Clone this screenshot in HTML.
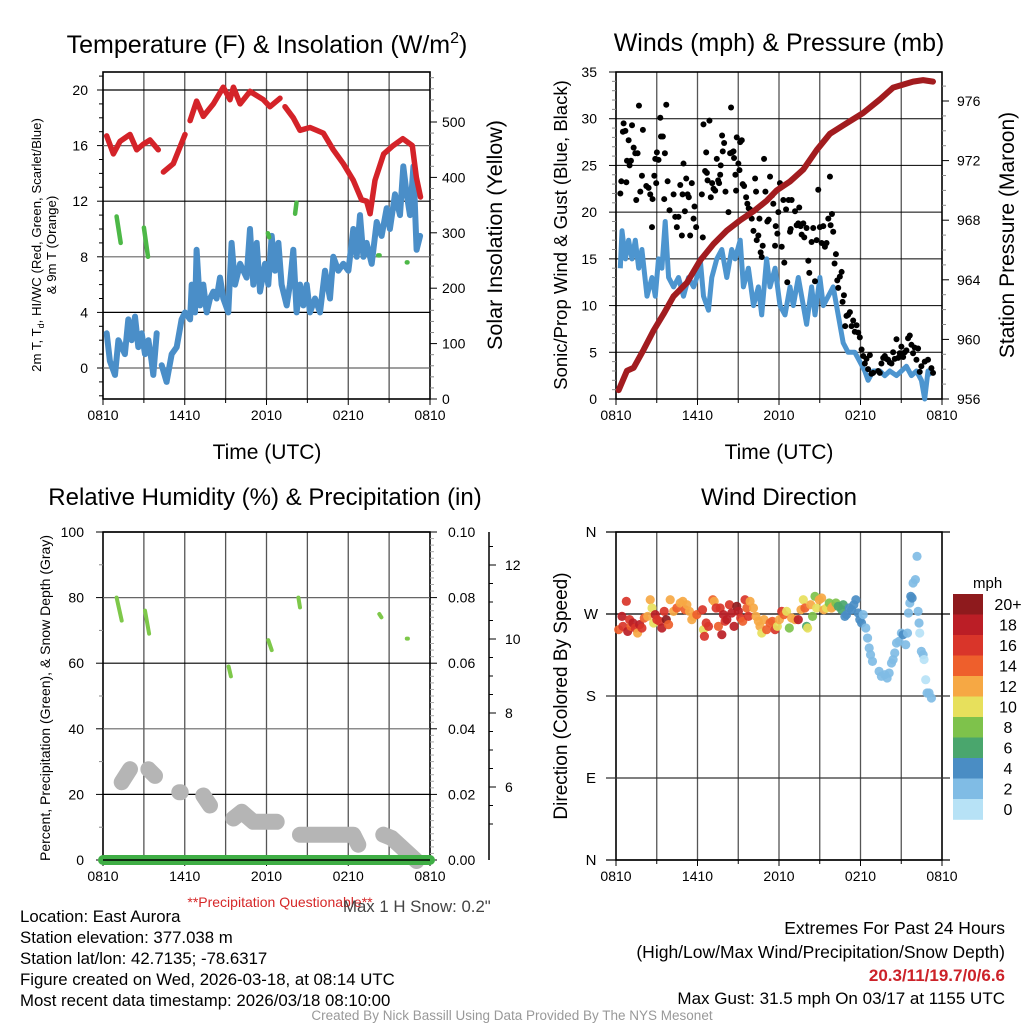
<!DOCTYPE html>
<html><head><meta charset="utf-8"><style>
html,body{margin:0;padding:0;background:#fff;}
svg{display:block;font-family:"Liberation Sans",sans-serif;}
</style></head><body>
<svg id="fig" width="1024" height="1024" viewBox="0 0 1024 1024" xmlns="http://www.w3.org/2000/svg">
<rect x="0" y="0" width="1024" height="1024" fill="#fff"/>
<g id="tl"></g>
<g id="tr"></g>
<g id="bl"></g>
<g id="br"></g>
<g font-size="16.8" fill="#000">
<text x="20" y="922">Location: East Aurora</text>
<text x="20" y="943">Station elevation: 377.038 m</text>
<text x="20" y="964">Station lat/lon: 42.7135; -78.6317</text>
<text x="20" y="985">Figure created on Wed, 2026-03-18, at 08:14 UTC</text>
<text x="20" y="1006">Most recent data timestamp: 2026/03/18 08:10:00</text>
<text x="1005" y="934" text-anchor="end" font-size="17.5">Extremes For Past 24 Hours</text>
<text x="1005" y="958" text-anchor="end" font-size="17.5">(High/Low/Max Wind/Precipitation/Snow Depth)</text>
<text x="1005" y="981" text-anchor="end" font-size="17" fill="#cc2229" font-weight="bold">20.3/11/19.7/0/6.6</text>
<text x="1005" y="1004" text-anchor="end" font-size="17">Max Gust: 31.5 mph On 03/17 at 1155 UTC</text>
<text x="512" y="1020" text-anchor="middle" font-size="13.5" fill="#999">Created By Nick Bassill Using Data Provided By The NYS Mesonet</text>
<text x="280" y="907" text-anchor="middle" font-size="14" fill="#d62728">**Precipitation Questionable**</text>
<text x="343" y="912" font-size="16.8" fill="#444">Max 1 H Snow: 0.2"</text>
</g>
</svg>
<script>
// ---------- DATA ----------
const tempHours=[0.27,0.76,1.25,1.98,2.47,2.96,3.45,4.06,null,4.43,5.16,5.65,6.02,null,6.39,6.87,7.36,8.1,8.83,9.32,9.57,10.06,10.79,11.77,12.26,12.99,null,13.36,13.97,14.46,15.19,16.17,16.9,17.64,18.37,18.98,19.35,19.6,19.96,20.6,21.3,22.0,22.7,23.0,23.3];
const tempVals=[16.7,15.4,16.3,16.8,15.7,16.1,16.4,15.7,null,14.1,14.7,15.9,16.8,null,17.8,19.2,18.1,19.0,20.2,19.3,20.2,19.0,19.9,19.3,18.8,19.4,null,18.8,18.0,17.1,17.3,16.9,15.7,14.7,13.5,12.1,12.0,11.1,13.5,15.4,16.0,16.5,16.0,13.7,12.3];
const dewHours=[0.27,0.51,0.88,1.13,1.61,1.86,2.1,2.35,2.59,2.84,3.08,3.33,3.57,3.69,3.94,null,4.31,4.67,5.04,5.41,5.77,6.02,6.39,6.51,6.75,6.87,7.12,7.36,7.61,7.85,8.1,8.34,8.59,8.83,9.2,9.44,9.69,10.06,10.54,10.79,11.03,11.28,11.52,11.89,12.13,12.38,12.62,12.87,13.11,13.48,13.72,13.97,14.21,14.46,14.7,14.95,15.19,15.56,15.93,16.29,16.66,16.9,17.27,17.64,18.01,18.37,18.62,18.86,19.11,19.35,19.72,20.09,20.45,20.82,21.06,21.43,21.8,22.04,22.29,22.53,22.78,23.02,23.27];
const dewVals=[2.5,0.5,-0.5,2,1,3.5,2,3.7,1.5,2.5,1.0,2,0.5,-0.5,2.5,null,0.2,-1,1,1.5,3.5,4,3.5,6,4,8.5,4.5,6,4,5,5.5,5,6.5,5,4,9,6,7.5,6.5,10,6,9,5.5,7.5,6,9.5,7,9,6,4.5,6,8.5,4,6,4.5,6,4,5,4,7,5,8,7,7.5,7,10,8,11,8,9,7.5,10.5,9.5,11.5,10,12.5,11,14.5,12.5,11,14.5,8.5,9.5];
const hiwcSegHours=[[1.0,1.3],[3.0,3.3],[12.1,12.2],[14.2,14.1],[20.2,20.3],[22.3,22.35]];
const hiwcSegVals=[[10.9,9.0],[10.1,8.0],[9.7,9.4],[11.9,11.1],[8.1,8.1],[7.6,7.6]];

const windHours=[0.32,0.44,0.69,0.93,1.18,1.42,1.67,1.91,2.28,2.65,2.89,3.13,3.38,3.62,3.87,4.24,4.6,4.97,5.34,5.71,5.95,6.2,6.44,6.81,7.05,7.42,7.79,8.16,8.52,8.77,9.14,9.38,9.75,10.12,10.48,10.73,11.09,11.34,11.71,12.07,12.44,12.81,13.05,13.42,13.79,14.03,14.4,14.65,15.01,15.26,15.63,15.99,16.36,16.73,17.09,17.58,17.95,18.32,18.56,18.93,19.42,19.79,20.16,20.65,21.01,21.38,21.75,22.12,22.48,22.73,22.97,23.22];
const windVals=[14,18,15,17,15,17,14,16,11,13,11,15,14,19,13,12,13,11,13,12,13,15,11,9.5,13,15,16,13,16,15,17,12,14,10,12,9,15,12,14,10,9,12,10,13,10,8,12,9,13,10,11,12,9,6,5,5,4,3,2,3,3,2.5,3,2.5,3,3.5,2.5,3,2,0,3,2.5];
const gustHours=[0.32,0.39,0.51,0.56,0.69,0.76,0.81,0.93,1.0,1.1,1.18,1.3,1.42,1.49,1.59,1.69,1.79,1.91,1.98,2.23,2.4,2.52,2.65,2.69,2.82,2.89,2.96,3.01,3.13,3.26,3.31,3.45,3.55,3.6,3.7,3.8,3.94,4.24,4.36,4.48,4.6,4.73,4.85,4.9,4.97,5.07,5.17,5.27,5.36,5.46,5.58,5.71,5.78,5.9,6.32,6.39,6.44,6.56,6.64,6.69,6.74,6.88,6.98,7.08,7.18,7.3,7.42,7.52,7.59,7.67,7.71,7.81,7.86,7.96,8.06,8.28,8.4,8.47,8.55,8.65,8.69,8.79,8.84,8.89,9.01,9.09,9.14,9.26,9.33,9.43,9.58,9.67,9.77,9.87,9.99,10.12,10.24,10.31,10.36,10.48,10.56,10.65,10.73,10.8,10.9,11.0,11.14,11.24,11.34,11.49,11.58,11.71,11.76,11.88,11.95,12.07,12.2,12.32,12.39,12.52,12.61,12.71,12.81,12.86,12.93,13.18,13.3,13.42,13.49,13.59,13.67,13.79,13.86,14.03,14.16,14.23,14.4,14.52,14.65,14.77,14.89,15.01,15.14,15.26,15.38,15.5,15.63,15.75,15.8,15.9,15.99,16.09,16.19,16.29,16.36,16.48,16.61,16.68,16.78,16.87,16.97,17.09,17.22,17.34,17.46,17.58,17.71,17.83,17.95,18.08,18.2,18.32,18.44,18.56,18.69,18.81,18.93,19.3,19.42,19.54,19.67,19.79,19.91,20.03,20.16,20.28,20.4,20.52,20.65,20.77,20.89,21.01,21.14,21.26,21.38,21.5,21.63,21.75,21.87,21.99,22.12,22.24,22.36,22.48,22.73,22.97,23.22,23.34];
const gustVals=[22,23.3,28.6,29.5,28.7,23.2,25.5,27.7,25,25.5,29.3,26.9,26.3,21.3,26.3,31.4,22.2,23.9,28.8,22.8,22.6,21.9,18.4,21.4,23.9,25.7,23.1,26.4,25.6,30.1,28.1,28.1,21.4,26.3,31.5,23.3,20.2,21.9,19.5,18.4,19.5,22.9,17.5,21.9,25.2,20.1,23.6,21.9,21.6,17.5,23.1,19.3,20.6,18.4,21.9,17.3,29.4,24.4,26.4,24.2,23.4,29.8,21.6,23.1,22.5,22.3,25.7,23.4,23.1,24,25,28.2,26.5,27.4,22.2,20,26.3,31.2,26.4,26.5,25.8,24,22.3,28,25.2,24.5,27.5,27.7,23,22.8,21.6,20.9,20.4,20.3,19.3,18,23.6,22.2,17,17.5,19.3,15.7,15.2,16.4,25.7,22.2,19,19.2,23.8,21.8,20.9,16.4,18.5,17.7,20,23.1,16.3,21.3,14.6,20.3,12.5,21.3,17.9,18.2,21.3,20.1,18.6,18.8,20.5,18.5,17.6,18.8,17.3,18.3,14.8,13.5,16.8,18.3,12.6,17,22.4,18.4,16.7,18.5,16.3,16.7,19.3,23.8,18.6,19.8,17.9,14.5,15.5,12.7,11.9,13.1,13.6,10.4,11.1,7.8,8.9,9,9.3,7.8,8.4,7.2,7.9,7.1,6.6,5.3,4.6,3.8,4.3,3.2,4.7,2.7,2.8,3,2.8,3.8,4.4,4.6,4.3,4.2,3.9,3.8,5,4.3,6.4,4.4,4.9,5.6,4.5,5,5.2,6.5,6.8,5.8,4.9,5.5,4.2,5.4,2.9,3.5,4,4.2,3.3,2.8];
const presHours=[0.2,0.81,1.3,2.03,2.77,3.5,4.24,5.22,6.2,7.18,8.16,9.14,10.12,11.09,11.83,12.81,13.79,14.77,15.75,16.97,18.2,19.42,20.4,21.87,22.61,23.34];
const presVals=[956.6,957.9,958.1,959.3,960.6,961.7,962.9,963.8,965.3,966.4,967.3,968.0,968.6,969.3,970.0,970.6,971.4,972.7,973.8,974.5,975.2,976.1,976.9,977.3,977.4,977.3];

const rhSegHours=[[1.0,1.37],[3.08,3.38],[9.22,9.39],[12.13,12.38],[14.34,14.46],[20.28,20.43],[22.3,22.38]];
const rhSegVals=[[80,73],[76,69],[59,56],[67,64],[80,77],[75,74],[67.5,67.5]];
const snowSegHours=[[1.37,1.98],[3.33,3.82],[5.6,5.7],[7.36,7.85],[9.57,10.18,11.03,12.75],[14.46,18.37,18.74],[20.57,21.19,23.02]];
const snowSegVals=[[6.13,6.48],[6.48,6.3],[5.86,5.86],[5.77,5.5],[5.15,5.33,5.06,5.06],[4.71,4.71,4.44],[4.71,4.62,4.0]];
const precipHours=[0,24];
const precipVals=[0,0];

const dirHours=[0.2,0.44,0.51,0.76,0.86,1.0,1.1,1.25,1.42,1.59,1.74,1.91,2.08,2.33,2.52,2.65,2.77,2.89,3.01,3.21,3.38,3.55,3.7,3.87,3.99,4.24,4.48,4.73,4.92,5.09,5.22,5.41,5.58,5.71,5.95,6.37,6.44,6.51,6.64,6.81,7.13,7.23,7.37,7.54,7.67,7.79,7.91,8.03,8.16,8.35,8.52,8.69,8.89,9.01,9.18,9.33,9.5,9.63,9.75,9.87,10.12,10.31,10.48,10.6,10.73,10.9,11.09,11.34,11.51,11.71,11.88,12.03,12.2,12.37,12.56,12.76,12.93,13.18,13.42,13.62,13.79,13.91,14.03,14.11,14.33,14.47,14.65,14.77,14.96,15.14,15.31,15.5,15.7,15.87,15.99,16.19,16.36,16.61,16.73,16.85,16.97,17.17,17.34,17.51,17.66,17.83,17.95,18.08,18.2,18.39,18.52,18.64,18.74,18.88,19.37,19.54,19.79,19.96,20.11,20.28,20.4,20.52,20.65,20.84,21.01,21.14,21.33,21.46,21.53,21.63,21.7,21.8,21.87,22.04,22.16,22.24,22.31,22.36,22.48,22.61,22.68,22.8,22.9,23.05,23.22];
const dirVals=[252.8,267.4,256.4,283.9,250.9,263.8,256.4,260.1,254.6,249.1,258.3,254.6,265.6,267.4,285.7,276.6,260.1,269.3,263.8,262,254.6,272.9,263.8,258.3,285.7,272.9,276.6,282.1,283.9,274.7,280.2,272.9,263.8,267.4,269.3,274.7,252.8,245.5,260.1,256.4,285.7,283.9,276.6,256.4,276.6,247.3,269.3,262,263.8,280.2,271.1,256.4,278.4,272.9,265.6,262,285.7,276.6,267.4,283.9,276.6,267.4,262,256.4,249.1,263.8,252.8,260.1,262,252.8,256.4,263.8,272.9,269.3,272.9,254.6,265.6,263.8,263.8,274.7,285.7,276.6,256.4,254.6,280.2,267.4,289.4,276.6,285.7,287.6,274.7,276.6,282.1,276.6,278.4,282.1,278.4,274.7,280.2,267.4,269.3,276.6,274.7,280.2,285.7,271.1,263.8,260.1,269.3,254.6,243.6,232.7,225.3,218,207,201.6,203.4,199.7,205.2,216.2,219.9,227.2,238.2,240,249.1,247.3,236.3,249.1,271.1,282.1,289.4,287.6,304,307.7,333.3,272.9,260.1,249.1,229,225.3,220,197.9,183.3,183.3,177.8];
const dirSpeeds=[14,18,16,16,18,16,14,18,16,12,18,16,14,12,11,10,10,18,16,16,18,16,20,14,12,12,14,12,12,14,12,12,12,12,14,16,10,16,16,16,14,12,16,14,16,18,18,16,18,16,18,18,20,18,16,14,16,14,16,12,12,12,12,12,10,12,14,14,14,16,10,12,16,14,10,8,12,12,18,12,10,14,6,10,12,8,8,10,12,12,12,10,8,12,12,8,6,6,6,4,4,4,4,4,4,4,4,4,2,2,2,2,2,2,2,2,2,2,2,2,2,2,2,2,2,4,2,2,2,2,4,4,2,2,2,2,2,0,2,2,0,0,2,2,2];
const legendLabels=["20+","18","16","14","12","10","8","6","4","2","0"];
const legendColors=["#8e1a1d","#bb1e26","#d9352a","#ee5f2c","#f6a844","#e7e05c","#7ec24b","#4aa66d","#4a8dc4","#80bce5","#b7e2f6"];
const xTickLabels=["0810","1410","2010","0210","0810"];

// ---------- HELPERS ----------
const NS="http://www.w3.org/2000/svg";
function mk(tag,parent,attrs){const e=document.createElementNS(NS,tag);for(const k in attrs)e.setAttribute(k,attrs[k]);parent.appendChild(e);return e;}
function txt(parent,x,y,s,size,anchor,extra){const t=mk("text",parent,Object.assign({x:x,y:y,"font-size":size,"text-anchor":anchor||"start",fill:"#000"},extra||{}));t.textContent=s;return t;}
function speedColor(s){let i=Math.round(s/2);if(i>10)i=10;return legendColors[10-i];}
function pathFrom(hs,vs,X,Y){let d="",pen=false;for(let i=0;i<hs.length;i++){if(hs[i]===null||vs[i]===null){pen=false;continue;}d+=(pen?"L":"M")+X(hs[i]).toFixed(1)+" "+Y(vs[i]).toFixed(1);pen=true;}return d;}

function frame(g,L,R,T,B,name){
  for(let h=3;h<24;h+=3){const x=L+(R-L)*h/24;
    const ln=mk("line",g,{x1:x,y1:T,x2:x,y2:B,stroke:"#555","stroke-width":1.3});
    
    }
  const r=mk("rect",g,{x:L,y:T,width:R-L,height:B-T,fill:"none",stroke:"#000","stroke-width":1.6});
  
  
  for(let i=0;i<=8;i++){const x=L+(R-L)*i/8;mk("line",g,{x1:x,y1:B,x2:x,y2:B+(i%2?4:6),stroke:"#000"});}
  xTickLabels.forEach((s,i)=>{const t=txt(g,L+(R-L)*i/4,B+21,s,14,"middle");
    
    });
}
function rotText(g,x,y,s,size,name){const t=txt(g,x,y,s,size,"middle",{transform:"rotate(-90 "+x+" "+y+")"});
  
  return t;}

// ---------- TOP LEFT ----------
(function(){
  const g=document.getElementById("tl");const L=103,R=430,T=72,B=399;
  const X=h=>L+(R-L)*h/24;const Y=v=>368-v*13.9;const Y2=v=>399-v*0.554;
  frame(g,L,R,T,B,"temperature");
  for(let v=-2;v<=21;v++){const y=Y(v);mk("line",g,{x1:L-(v%4===0?6:4),y1:y,x2:L,y2:y,stroke:"#000"});
    if(v%4===0){const gl=mk("line",g,{x1:L,y1:y,x2:R,y2:y,stroke:(v%8===0?"#666":"#000"),"stroke-width":1.2});
      
      
      const t=txt(g,88,y+5,String(v),14,"end");
      
      }}
  for(let v=0;v<=580;v+=20){const y=Y2(v);if(y<T)break;mk("line",g,{x1:R,y1:y,x2:R+(v%100===0?7:4),y2:y,stroke:v%100===0?"#000":"#888"});
    if(v%100===0){const t=txt(g,442,y+5,String(v),14,"start");
      
      }}
  const tt=txt(g,267,53,"Temperature (F) & Insolation (W/m",25,"middle");
  
  
  const sup=mk("tspan",tt,{dy:-10,"font-size":16});sup.textContent="2";
  const cl=mk("tspan",tt,{dy:10});cl.textContent=")";
  const xt=txt(g,267,459,"Time (UTC)",21,"middle");
  
  
  rotText(g,502,235,"Solar Insolation (Yellow)",21.5,"insolation-axis-title");
  const yt=txt(g,41,245,"",13.2,"middle",{transform:"rotate(-90 41 245)"});
  
  
  yt.innerHTML='2m T, T<tspan font-size="9" dy="3">d</tspan><tspan dy="-3">, HI/WC (Red, Green, Scarlet/Blue)</tspan>';
  const yt2=txt(g,56,245,"& 9m T (Orange)",13.2,"middle",{transform:"rotate(-90 56 245)"});
  
  
  const dp=mk("path",g,{d:pathFrom(dewHours,dewVals,X,Y),fill:"none",stroke:"#4a8ec8","stroke-width":6,"stroke-linejoin":"round","stroke-linecap":"round"});
  
  
  const tp=mk("path",g,{d:pathFrom(tempHours,tempVals,X,Y),fill:"none",stroke:"#d42329","stroke-width":5.5,"stroke-linejoin":"round","stroke-linecap":"round"});
  
  
  hiwcSegHours.forEach((hs,i)=>{const p=mk("path",g,{d:pathFrom(hs,hiwcSegVals[i],X,Y),fill:"none",stroke:"#4db847","stroke-width":4.5,"stroke-linecap":"round"});
    
    });
})();

// ---------- TOP RIGHT ----------
(function(){
  const g=document.getElementById("tr");const L=616,R=942,T=72,B=399;
  const X=h=>L+(R-L)*h/24;const Y=v=>B-v*(B-T)/35;const Y2=p=>399-(p-956)*14.9;
  frame(g,L,R,T,B,"winds");
  for(let v=0;v<=35;v++){const y=Y(v);mk("line",g,{x1:L-(v%5===0?7:4),y1:y,x2:L,y2:y,stroke:v%5===0?"#000":"#888"});
    if(v%5===0){const gl=mk("line",g,{x1:L,y1:y,x2:R,y2:y,stroke:"#000","stroke-width":1});
      
      
      const t=txt(g,597,y+5,String(v),14,"end");
      
      }}
  for(let p=956;p<=977;p++){const y=Y2(p);mk("line",g,{x1:R,y1:y,x2:R+(p%4===0?7:4),y2:y,stroke:p%4===0?"#000":"#888"});
    if(p%4===0){const t=txt(g,957,y+5,String(p),14,"start");
      
      }}
  const tt=txt(g,779,51,"Winds (mph) & Pressure (mb)",25,"middle");
  
  
  const xt=txt(g,779,459,"Time (UTC)",21,"middle");
  
  
  rotText(g,567,235,"Sonic/Prop Wind & Gust (Blue, Black)",18.5,"wind-axis-title");
  rotText(g,1014,235,"Station Pressure (Maroon)",21,"pressure-axis-title");
  const wp=mk("path",g,{d:pathFrom(windHours,windVals,X,Y),fill:"none",stroke:"#4d95cf","stroke-width":5,"stroke-linejoin":"round"});
  
  
  gustHours.forEach((h,i)=>{const c=mk("circle",g,{cx:X(h),cy:Y(gustVals[i]),r:3,fill:"#000"});
    
    });
  const pp=mk("path",g,{d:pathFrom(presHours,presVals,X,Y2),fill:"none",stroke:"#a21c1f","stroke-width":6,"stroke-linejoin":"round","stroke-linecap":"round"});
  
  
})();

// ---------- BOTTOM LEFT ----------
(function(){
  const g=document.getElementById("bl");const L=103,R=430,T=532,B=860;
  const X=h=>L+(R-L)*h/24;const Y=v=>B-v*(B-T)/100;const Ys=s=>861-(s-4)*37;
  frame(g,L,R,T,B,"humidity");
  for(let v=0;v<=100;v+=10){const y=Y(v);mk("line",g,{x1:L-(v%20===0?7:4),y1:y,x2:L,y2:y,stroke:v%20===0?"#000":"#888"});
    if(v%20===0){const gl=mk("line",g,{x1:L,y1:y,x2:R,y2:y,stroke:v%40===0&&v>0?"#666":"#000","stroke-width":1.2});
      
      
      const t=txt(g,84,y+5,String(v),14,"end");
      
      }}
  for(let i=0;i<=50;i++){const v=i*0.002,y=B-v*(B-T)/0.1;mk("line",g,{x1:R,y1:y,x2:R+(i%10===0?7:4),y2:y,stroke:i%10===0?"#000":"#aaa"});
    if(i%10===0){const t=txt(g,448,y+5,v.toFixed(2),14,"start");
      
      }}
  const sa=mk("line",g,{x1:489,y1:532,x2:489,y2:860,stroke:"#000","stroke-width":1.5});
  
  
  for(let s=5;s<=12.5;s+=0.5){const y=Ys(s);mk("line",g,{x1:489,y1:y,x2:489+(s%2===0?7:4),y2:y,stroke:"#000"});
    if(s%2===0){const t=txt(g,505,y+5,String(s),14,"start");
      
      }}
  const tt=txt(g,265,505,"Relative Humidity (%) & Precipitation (in)",24,"middle");
  
  
  rotText(g,50,698,"Percent, Precipitation (Green), & Snow Depth (Gray)",14,"humidity-axis-title");
  snowSegHours.forEach((hs,i)=>{const p=mk("path",g,{d:pathFrom(hs,snowSegVals[i],X,Ys),fill:"none",stroke:"#b5b5b5","stroke-width":16,"stroke-linecap":"round","stroke-linejoin":"round"});
    
    });
  rhSegHours.forEach((hs,i)=>{const p=mk("path",g,{d:pathFrom(hs,rhSegVals[i],X,Y),fill:"none",stroke:"#7ec84a","stroke-width":4,"stroke-linecap":"round"});
    
    });
  const pr=mk("path",g,{d:pathFrom(precipHours,precipVals,X,v=>B-v*(B-T)/0.1),fill:"none",stroke:"#3fae45","stroke-width":10,"stroke-linecap":"round"});
  
  
  mk("line",g,{x1:L,y1:B,x2:R,y2:B,stroke:"#000","stroke-width":1.5});
})();

// ---------- BOTTOM RIGHT ----------
(function(){
  const g=document.getElementById("br");const L=616,R=942,T=532,B=860;
  const X=h=>L+(R-L)*h/24;const Y=d=>B-d*(B-T)/360;
  frame(g,L,R,T,B,"direction");
  ["N","E","S","W","N"].forEach((s,i)=>{const y=Y(i*90);
    const gl=mk("line",g,{x1:606,y1:y,x2:R+8,y2:y,stroke:(i===1||i===2)?"#333":"#000","stroke-width":1.2});
    
    
    const t=txt(g,591,y+5,s,15,"middle");
    
    });
  const tt=txt(g,779,505,"Wind Direction",24,"middle");
  
  
  rotText(g,567,696,"Direction (Colored By Speed)",19,"direction-axis-title");
  dirHours.forEach((h,i)=>{const c=mk("circle",g,{cx:X(h),cy:Y(dirVals[i]),r:4.6,fill:speedColor(dirSpeeds[i]),"fill-opacity":0.92});
    
    });
  const mt=txt(g,973,588,"mph",15,"start");
  
  
  legendLabels.forEach((s,i)=>{const y=594+i*20.5;
    const r=mk("rect",g,{x:953,y:y,width:30,height:20.8,fill:legendColors[i]});
    
    
    const t=txt(g,1008,y+16,s,16,"middle");
    
    });
})();
</script>
</body></html>
